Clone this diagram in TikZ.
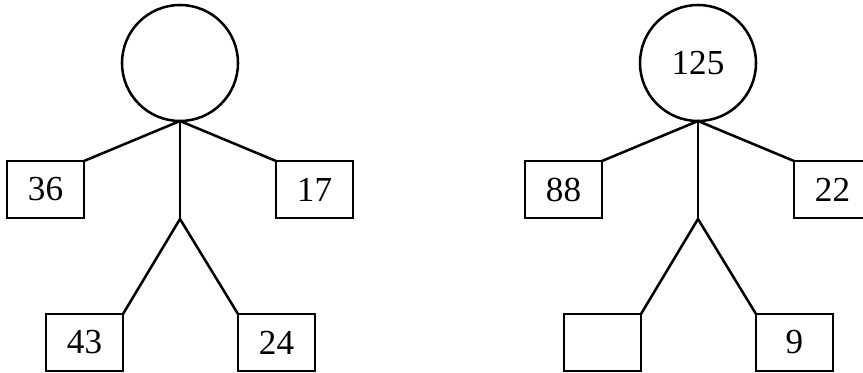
\documentclass[tikz,border=0pt]{standalone}
\usepackage{fontspec}
\setmainfont{Liberation Serif}
\usetikzlibrary{positioning}

\begin{document}
\begin{tikzpicture}[
    font=\fontsize{25}{30}\selectfont,
    line width=1.8pt,
    head/.style={
        draw,
        circle,
        minimum size=2.9cm,
        inner sep=0pt,
        outer sep=0pt
    },
    numbox/.style={
        draw,
        minimum width=1.925cm,
        minimum height=1.425cm,
        inner sep=0pt,
        outer sep=0pt
    },
    limb/.style={
        line width=1.8pt
    }
]

\useasboundingbox (0,0) rectangle (21.575,-9.3);

% =====================
% Left figure
% =====================

\node[head] (headA) at (4.5,-1.575) {};

\node[numbox, below left=1.0cm and 2.4cm of headA.south, anchor=north east] (boxA1) {36};
\node[numbox, below right=1.0cm and 2.4cm of headA.south, anchor=north west] (boxA2) {17};

\coordinate[below=2.45cm of headA.south] (hipA);

\node[numbox, below left=2.375cm and 1.425cm of hipA, anchor=north east] (boxA3) {43};
\node[numbox, below right=2.375cm and 1.45cm of hipA, anchor=north west] (boxA4) {24};

\draw[limb] (headA.south) -- (hipA);
\draw[limb] (headA.south) -- (boxA1.north east);
\draw[limb] (headA.south) -- (boxA2.north west);
\draw[limb] (hipA) -- (boxA3.north east);
\draw[limb] (hipA) -- (boxA4.north west);

% =====================
% Right figure
% =====================

\node[head, right=10.05cm of headA] (headB) {125};

\node[numbox, below left=1.0cm and 2.4cm of headB.south, anchor=north east] (boxB1) {88};
\node[numbox, below right=1.0cm and 2.4cm of headB.south, anchor=north west] (boxB2) {22};

\coordinate[below=2.45cm of headB.south] (hipB);

\node[numbox, below left=2.375cm and 1.425cm of hipB, anchor=north east] (boxB3) {};
\node[numbox, below right=2.375cm and 1.45cm of hipB, anchor=north west] (boxB4) {9};

\draw[limb] (headB.south) -- (hipB);
\draw[limb] (headB.south) -- (boxB1.north east);
\draw[limb] (headB.south) -- (boxB2.north west);
\draw[limb] (hipB) -- (boxB3.north east);
\draw[limb] (hipB) -- (boxB4.north west);

\end{tikzpicture}
\end{document}
